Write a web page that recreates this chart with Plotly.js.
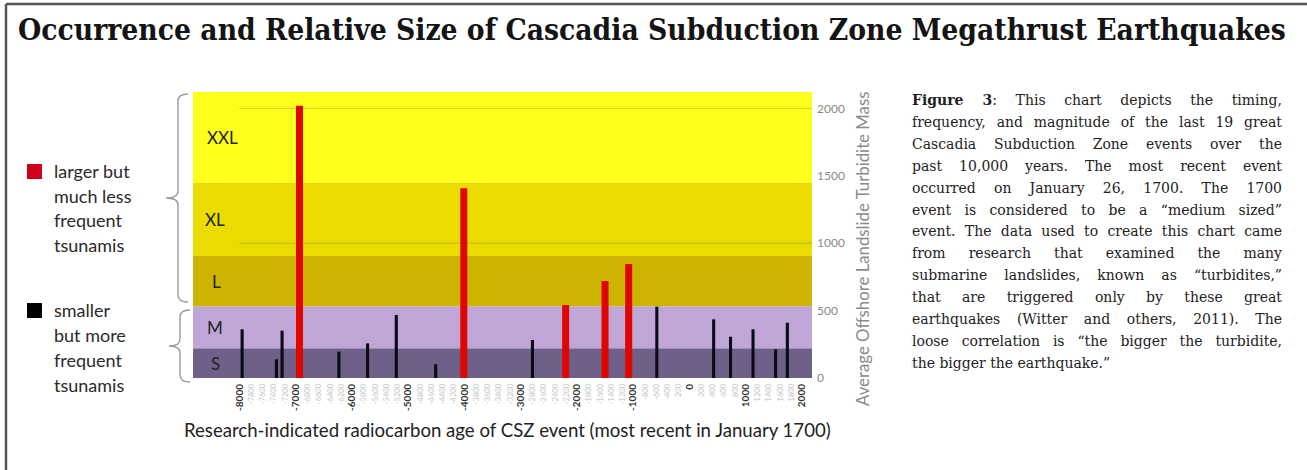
<!DOCTYPE html>
<html><head><meta charset="utf-8">
<script src="https://cdn.plot.ly/plotly-3.0.1.min.js"></script>
<style>html,body{margin:0;padding:0;background:#fff;} #chart{width:1307px;height:470px;}</style>
</head><body><div id="chart"></div>
<script>
// ---------- DATA ----------
const smallYears = [-7950, -7340, -7240, -6230, -5720, -5210, -4510, -2790, -580, 430, 730, 1130, 1530, 1740];
const smallMass  = [361, 139, 351, 195, 257, 467, 102, 282, 529, 435, 306, 361, 213, 410];
const largeYears = [-6930, -4010, -2200, -1500, -1080];
const largeMass  = [2019, 1407, 541, 719, 845];

const bandNames = ['S', 'M', 'L', 'XL', 'XXL'];
const bandLow   = [0, 220, 532, 905, 1450];
const bandHigh  = [220, 532, 905, 1450, 2121];

const tickYears = [-8000,-7800,-7600,-7400,-7200,-7000,-6800,-6600,-6400,-6200,-6000,-5800,-5600,-5400,-5200,-5000,-4800,-4600,-4400,-4200,-4000,-3800,-3600,-3400,-3200,-3000,-2800,-2600,-2400,-2200,-2000,-1800,-1600,-1400,-1200,-1000,-800,-600,-400,-200,0,200,400,600,800,1000,1200,1400,1600,1800,2000];
const massTicks = [0, 500, 1000, 1500, 2000];

const titleText = 'Occurrence and Relative Size of Cascadia Subduction Zone Megathrust Earthquakes';
const xTitle = 'Research-indicated radiocarbon age of CSZ event (most recent in January 1700)';
const yTitle = 'Average Offshore Landslide Turbidite Mass';
const largeLegend = ['larger but', 'much less', 'frequent', 'tsunamis'];
const smallLegend = ['smaller', 'but more', 'frequent', 'tsunamis'];
const captionBold = 'Figure 3';
const captionLines = [
  ': This chart depicts the timing,',
  'frequency, and magnitude of the last 19 great',
  'Cascadia Subduction Zone events over the',
  'past 10,000 years. The most recent event',
  'occurred on January 26, 1700. The 1700',
  'event is considered to be a \u201cmedium sized\u201d',
  'event. The data used to create this chart came',
  'from research that examined the many',
  'submarine landslides, known as \u201cturbidites,\u201d',
  'that are triggered only by these great',
  'earthquakes (Witter and others, 2011). The',
  'loose correlation is \u201cthe bigger the turbidite,',
  'the bigger the earthquake.\u201d'
];

// ---------- STYLE / LAYOUT ----------
const W = 1307, H = 470;
const X = p => p / W;
const Y = p => 1 - p / H;
const bandColors = ['#6E6089', '#C0A6D7', '#CDB400', '#EADB00', '#FFFF1C'];
const bandLabelX = [215, 215, 216, 215, 222];
const capFamily = '"DejaVu Serif"';
const serif = capFamily + ', serif';
const sans = 'Lato, "Open Sans", sans-serif';

const ticktext = tickYears.map(v => (v % 1000 === 0)
  ? '<b>' + v + '</b>'
  : '<span style="color:#c4c4c4;font-size:7.5px">' + v + '</span>');

const traces = [
  {type: 'bar', x: smallYears, y: smallMass, width: smallYears.map(() => 55),
   marker: {color: '#0b0b18', line: {width: 0}}, hoverinfo: 'skip'},
  {type: 'bar', x: largeYears, y: largeMass, width: largeYears.map(() => 125),
   marker: {color: '#E00600', line: {width: 0}}, hoverinfo: 'skip'}
];

const shapes = [];
bandNames.forEach((n, i) => shapes.push({type: 'rect', xref: 'x domain', yref: 'y', x0: 0, x1: 1,
  y0: bandLow[i], y1: bandHigh[i], fillcolor: bandColors[i], line: {width: 0}, layer: 'below'}));
[1000, 2000].forEach(v => shapes.push({type: 'line', xref: 'x', yref: 'y', x0: -8000, x1: 2178, y0: v, y1: v,
  line: {color: 'rgba(110,110,90,0.35)', width: 1}, layer: 'below'}));
// frame
shapes.push({type: 'line', xref: 'paper', yref: 'paper', x0: X(6), x1: 1, y0: Y(4), y1: Y(4), line: {color: '#555', width: 2.5}});
shapes.push({type: 'line', xref: 'paper', yref: 'paper', x0: X(6), x1: X(6), y0: Y(4), y1: 0, line: {color: '#555', width: 2.5}});
// legend squares
shapes.push({type: 'rect', xref: 'paper', yref: 'paper', x0: X(27), x1: X(42), y0: Y(164), y1: Y(179), fillcolor: '#D0021B', line: {width: 0}});
shapes.push({type: 'rect', xref: 'paper', yref: 'paper', x0: X(27), x1: X(42), y0: Y(303), y1: Y(318), fillcolor: '#000', line: {width: 0}});
// braces
function brace(xr, xm, xl, yt, yb) {
  const ym = (yt + yb) / 2, r = 7;
  const P = (x, y) => X(x).toFixed(5) + ',' + Y(y).toFixed(5);
  return 'M' + P(xr, yt) + ' Q' + P(xm, yt) + ' ' + P(xm, yt + r) +
         ' L' + P(xm, ym - r) + ' Q' + P(xm, ym) + ' ' + P(xl, ym) +
         ' Q' + P(xm, ym) + ' ' + P(xm, ym + r) +
         ' L' + P(xm, yb - r) + ' Q' + P(xm, yb) + ' ' + P(xr, yb);
}
shapes.push({type: 'path', xref: 'paper', yref: 'paper', path: brace(188, 178, 166, 94, 302), line: {color: '#9a9a9a', width: 1.4}});
shapes.push({type: 'path', xref: 'paper', yref: 'paper', path: brace(190, 180, 169, 310, 382), line: {color: '#9a9a9a', width: 1.4}});

const ann = [];
ann.push({text: '<b>' + titleText + '</b>', xref: 'paper', yref: 'paper', x: X(652), y: Y(30),
  xanchor: 'center', yanchor: 'middle', showarrow: false, font: {family: '"DejaVu Serif Condensed", serif', size: 29.7, color: '#141414'}});
ann.push({text: xTitle, xref: 'paper', yref: 'paper', x: X(507), y: Y(430), xanchor: 'center', yanchor: 'middle',
  showarrow: false, font: {family: sans, size: 18.6, color: '#222'}});
ann.push({text: yTitle, xref: 'paper', yref: 'paper', x: X(862), y: Y(249), xanchor: 'center', yanchor: 'middle',
  textangle: -90, showarrow: false, font: {family: sans, size: 16.8, color: '#8a8a8a'}});
bandNames.forEach((n, i) => ann.push({text: n, xref: 'paper', yref: 'y', x: X(bandLabelX[i]), y: (bandLow[i] + bandHigh[i]) / 2,
  xanchor: 'center', yanchor: 'middle', showarrow: false, font: {family: sans, size: 17, color: '#222'}}));
largeLegend.forEach((t, i) => ann.push({text: t, xref: 'paper', yref: 'paper', x: X(52), y: Y(171 + i * 24.7),
  xanchor: 'left', yanchor: 'middle', showarrow: false, font: {family: sans, size: 18, color: '#2a2a2a'}}));
smallLegend.forEach((t, i) => ann.push({text: t, xref: 'paper', yref: 'paper', x: X(52), y: Y(310 + i * 25),
  xanchor: 'left', yanchor: 'middle', showarrow: false, font: {family: sans, size: 18, color: '#2a2a2a'}}));

// caption, justified via word-spacing
const capSize = 14, capWidth = 370;
const ctx = document.createElement('canvas').getContext('2d');
const meas = (t, b) => { ctx.font = (b ? 'bold ' : '') + capSize + 'px ' + capFamily; return ctx.measureText(t).width; };
captionLines.forEach((line, i) => {
  const full = i === 0 ? captionBold + line : line;
  const wdt = i === 0 ? meas(captionBold, true) + meas(line, false) : meas(line, false);
  const nsp = (full.match(/ /g) || []).length;
  const ws = (i === captionLines.length - 1 || nsp === 0) ? 0 : Math.max(0, (capWidth - wdt) / nsp);
  const st = 'word-spacing:' + ws.toFixed(2) + 'px';
  const txt = i === 0
    ? '<span style="' + st + '"><b>' + captionBold + '</b></span><span style="' + st + '">' + line + '</span>'
    : '<span style="' + st + '">' + line + '</span>';
  ann.push({text: txt, xref: 'paper', yref: 'paper', x: X(910), y: Y(100 + i * 21.9), xanchor: 'left', yanchor: 'middle',
    showarrow: false, font: {family: serif, size: capSize, color: '#222'}});
});

const layout = {
  width: W, height: H, margin: {l: 0, r: 0, t: 0, b: 0},
  paper_bgcolor: '#fff', plot_bgcolor: 'rgba(0,0,0,0)',
  showlegend: false, hovermode: false, barmode: 'overlay',
  xaxis: {domain: [X(193), X(812)], range: [-8823, 2178], tickmode: 'array', tickvals: tickYears, ticktext: ticktext,
    tickangle: -90, tickfont: {family: sans, size: 10, color: '#333'}, showgrid: false, zeroline: false,
    showline: false, ticks: '', ticklabelstandoff: 3, fixedrange: true},
  yaxis: {domain: [Y(378), Y(92)], range: [0, 2121], side: 'right', tickmode: 'array', tickvals: massTicks,
    tickfont: {family: sans, size: 12, color: '#8a8a8a'}, showgrid: false, zeroline: false, showline: false,
    ticks: '', ticklabelstandoff: 4, fixedrange: true},
  shapes: shapes, annotations: ann
};
Plotly.newPlot('chart', traces, layout, {displayModeBar: false, staticPlot: true});
</script></body></html>
